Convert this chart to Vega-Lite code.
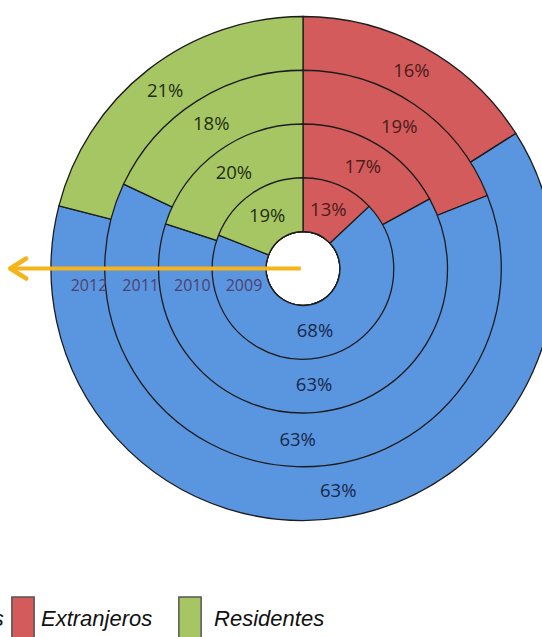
{
  "$schema": "https://vega.github.io/schema/vega-lite/v6.json",
  "width": 478,
  "height": 537,
  "autosize": {"type": "none"},
  "padding": {"left": 64, "top": 0, "right": 0, "bottom": 100},
  "background": "white",
  "config": {"view": {"stroke": null}},
  "data": {
    "values": [
      {"anio": 2012, "grupo": "Extranjeros", "orden": 1, "cuota": 0.16},
      {"anio": 2012, "grupo": "Nacionales", "orden": 2, "cuota": 0.63},
      {"anio": 2012, "grupo": "Residentes", "orden": 3, "cuota": 0.21},
      {"anio": 2011, "grupo": "Extranjeros", "orden": 1, "cuota": 0.19},
      {"anio": 2011, "grupo": "Nacionales", "orden": 2, "cuota": 0.63},
      {"anio": 2011, "grupo": "Residentes", "orden": 3, "cuota": 0.18},
      {"anio": 2010, "grupo": "Extranjeros", "orden": 1, "cuota": 0.17},
      {"anio": 2010, "grupo": "Nacionales", "orden": 2, "cuota": 0.63},
      {"anio": 2010, "grupo": "Residentes", "orden": 3, "cuota": 0.20},
      {"anio": 2009, "grupo": "Extranjeros", "orden": 1, "cuota": 0.13},
      {"anio": 2009, "grupo": "Nacionales", "orden": 2, "cuota": 0.68},
      {"anio": 2009, "grupo": "Residentes", "orden": 3, "cuota": 0.19}
    ]
  },
  "layer": [
    {
      "mark": {"type": "arc", "innerRadius": 37, "stroke": "#1c1c1c", "strokeWidth": 1.3},
      "encoding": {
        "theta": {"field": "cuota", "type": "quantitative", "stack": true},
        "radius": {"field": "anio", "type": "quantitative", "scale": {"type": "linear", "domain": [2008, 2012], "range": [37, 252], "zero": false, "nice": false}},
        "order": [{"field": "anio", "sort": "descending"}, {"field": "orden", "sort": "ascending"}],
        "color": {
          "field": "grupo",
          "type": "nominal",
          "scale": {"domain": ["Nacionales", "Extranjeros", "Residentes"], "range": ["#5a96df", "#d35b5b", "#a6c664"]},
          "legend": {
            "orient": "none",
            "direction": "horizontal",
            "columns": 3,
            "legendX": -199,
            "legendY": 607,
            "title": null,
            "padding": 0,
            "symbolType": "M-1,-2H1V2H-1Z",
            "symbolSize": 497,
            "symbolStrokeColor": "#555555",
            "symbolStrokeWidth": 1.5,
            "symbolOpacity": 1,
            "labelFont": "Liberation Sans",
            "labelFontStyle": "italic",
            "labelFontSize": 22,
            "labelColor": "#111111",
            "labelOffset": 6,
            "labelLimit": 300,
            "columnPadding": 4,
            "labelExpr": "datum.label == 'Extranjeros' ? 'Extranjeros\u00a0\u00a0\u00a0\u200b' : datum.label == 'Residentes' ? '\u200b\u00a0Residentes' : datum.label"
          }
        }
      }
    },
    {
      "data": {"values": [{}]},
      "mark": {"type": "rule", "color": "#f5b41c", "strokeWidth": 4},
      "encoding": {
        "x": {"datum": 2007.9, "type": "quantitative", "scale": {"domain": [2009, 2012], "range": [180, 25], "zero": false, "nice": false}, "axis": null},
        "x2": {"datum": 2013.53},
        "y": {"datum": 0, "type": "quantitative", "scale": {"domain": [-1, 1], "zero": false, "nice": false}, "axis": null}
      }
    },
    {
      "data": {"values": [{}]},
      "mark": {"type": "point", "shape": "M1,-1.25L-1,0L1,1.25", "filled": false, "stroke": "#f5b41c", "strokeWidth": 4.5, "size": 256, "opacity": 1, "strokeCap": "round", "strokeJoin": "round"},
      "encoding": {
        "x": {"datum": 2013.37, "type": "quantitative", "scale": {"domain": [2009, 2012], "range": [180, 25], "zero": false, "nice": false}, "axis": null},
        "y": {"datum": 0, "type": "quantitative", "scale": {"domain": [-1, 1], "zero": false, "nice": false}, "axis": null}
      }
    },
    {
      "mark": {"type": "text", "radiusOffset": -27, "font": "Open Sans", "fontSize": 18.5},
      "encoding": {
        "theta": {"field": "cuota", "type": "quantitative", "stack": true},
        "radius": {"field": "anio", "type": "quantitative", "scale": {"type": "linear", "domain": [2008, 2012], "range": [37, 252], "zero": false, "nice": false}},
        "order": [{"field": "anio", "sort": "descending"}, {"field": "orden", "sort": "ascending"}],
        "text": {"field": "cuota", "type": "quantitative", "format": ".0%"},
        "fill": {"field": "grupo", "type": "nominal", "scale": {"domain": ["Nacionales", "Extranjeros", "Residentes"], "range": ["#17284a", "#4b1c1c", "#1f2e12"]}, "legend": null}
      }
    },
    {
      "transform": [{"aggregate": [{"op": "count", "as": "n"}], "groupby": ["anio"]}],
      "mark": {"type": "text", "font": "Open Sans", "fontSize": 16, "fill": "#4e3f70", "dy": 17},
      "encoding": {
        "x": {"field": "anio", "type": "quantitative", "scale": {"domain": [2009, 2012], "range": [180, 25], "zero": false, "nice": false}, "axis": null},
        "y": {"datum": 0, "type": "quantitative", "scale": {"domain": [-1, 1], "zero": false, "nice": false}, "axis": null},
        "text": {"field": "anio", "type": "nominal"}
      }
    }
  ]
}
